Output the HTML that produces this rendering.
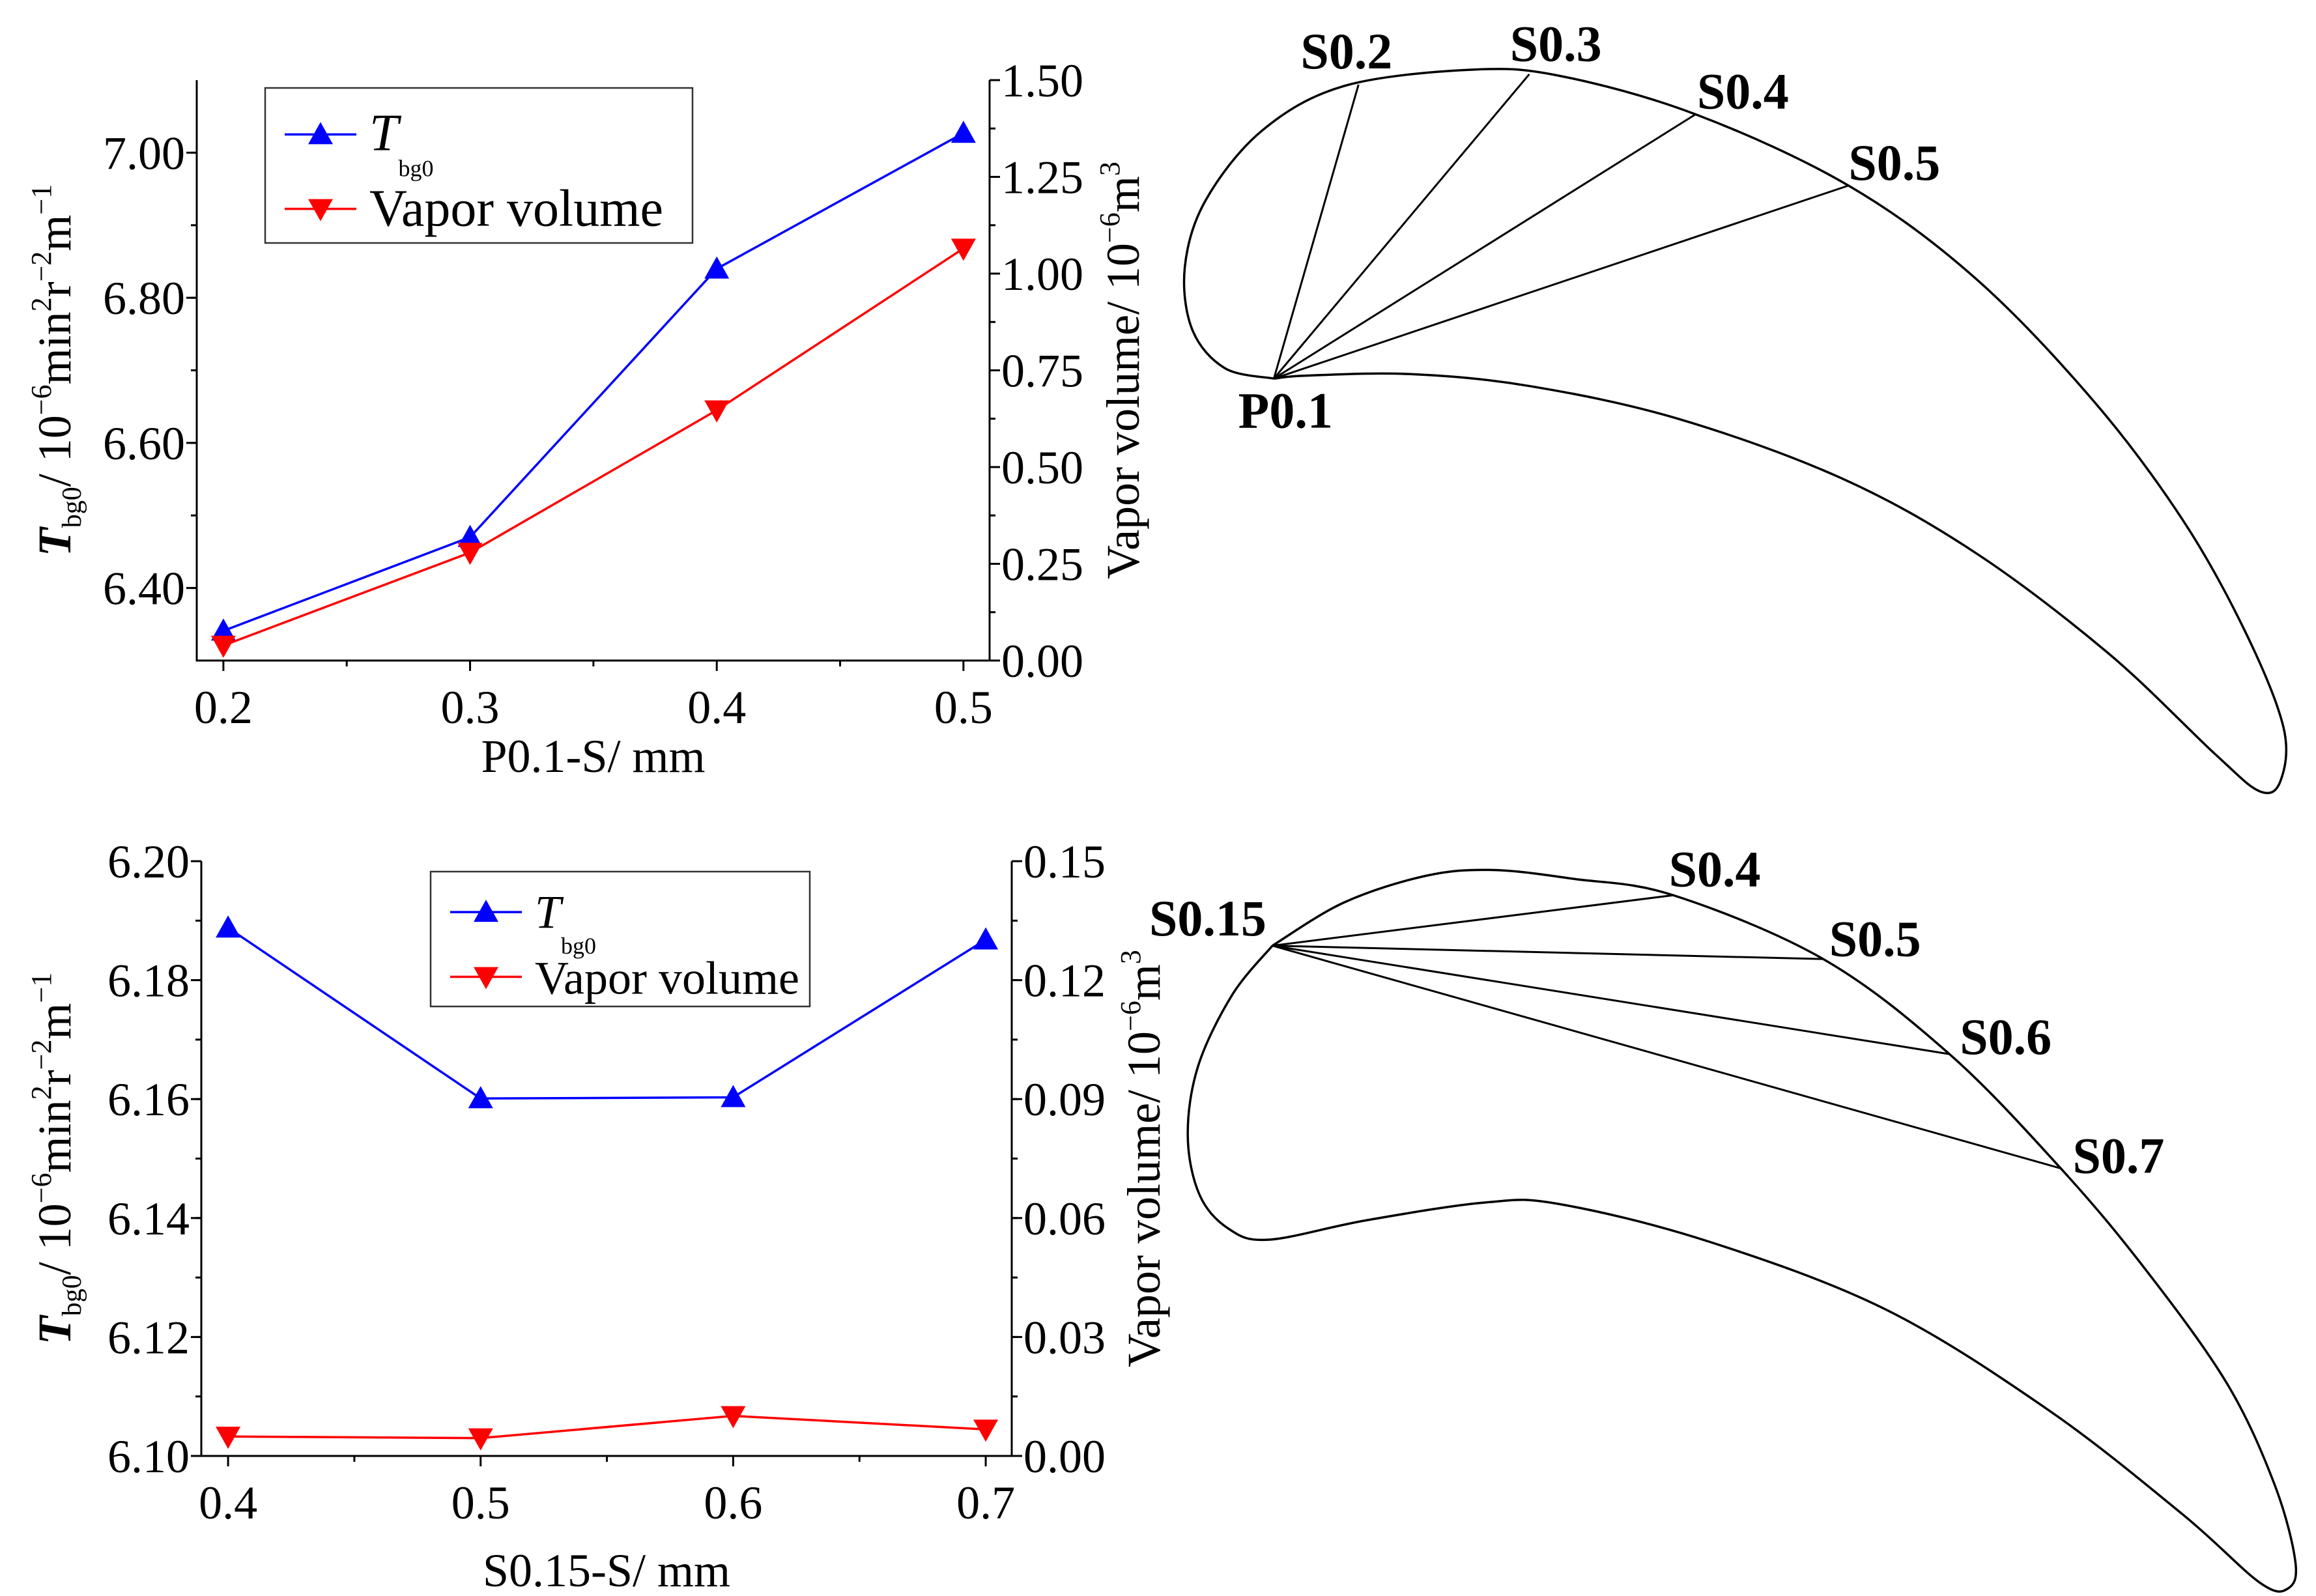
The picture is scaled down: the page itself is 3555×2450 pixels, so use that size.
<!DOCTYPE html>
<html><head><meta charset="utf-8"><style>
html,body{margin:0;padding:0;background:#fff}
svg{display:block}
text{font-family:"Liberation Serif","DejaVu Serif",serif;fill:#000}
</style></head><body>
<svg id="s" width="3555" height="2450" viewBox="0 0 3555 2450" font-family="Liberation Serif, serif" xmlns="http://www.w3.org/2000/svg"></svg>
<script>
// chart 1 data
const c1Cats=[0.2,0.3,0.4,0.5];
const c1T=[6.341,6.470,6.840,7.027];
const c1V=[0.039,0.279,0.647,1.065];
const c1LeftTicks=["6.40","6.60","6.80","7.00"];
const c1RightTicks=["0.00","0.25","0.50","0.75","1.00","1.25","1.50"];
const c1XTicks=["0.2","0.3","0.4","0.5"];
// chart 2 data
const c2Cats=[0.4,0.5,0.6,0.7];
const c2T=[6.1888,6.1601,6.1603,6.1868];
const c2V=[0.0049,0.0045,0.0101,0.0067];
const c2LeftTicks=["6.10","6.12","6.14","6.16","6.18","6.20"];
const c2RightTicks=["0.00","0.03","0.06","0.09","0.12","0.15"];
const c2XTicks=["0.4","0.5","0.6","0.7"];

const NS="http://www.w3.org/2000/svg";
const svg=document.getElementById('s');
function mk(tag,attrs,parent,txt){const e=document.createElementNS(NS,tag);for(const k in attrs)e.setAttribute(k,attrs[k]);if(txt!==undefined)e.textContent=txt;(parent||svg).appendChild(e);return e;}
const FS=72;
function chart(o){
  const g=mk('g',{});
  
  
  const X=v=>o.x0+(v-o.xmin)/(o.xmax-o.xmin)*(o.x1-o.x0);
  const YL=v=>o.y1-(v-o.lmin)/(o.lmax-o.lmin)*(o.y1-o.y0);
  const YR=v=>o.y1-(v-o.rmin)/(o.rmax-o.rmin)*(o.y1-o.y0);
  const ax=mk('path',{d:`M${o.x0},${o.y0}V${o.y1}H${o.x1}V${o.y0}`,fill:'none',stroke:'#000','stroke-width':3},g);
  
  o.xt.forEach((t,i)=>{const v=parseFloat(t);const x=X(v);
    mk('line',{x1:x,y1:o.y1,x2:x,y2:o.y1+16,stroke:'#000','stroke-width':3},g);
    const l=mk('text',{x:x,y:o.y1+96,'font-size':FS,'text-anchor':'middle'},g,t);
    
    if(i<o.xt.length-1){const xm=X(v+o.xstep/2);mk('line',{x1:xm,y1:o.y1,x2:xm,y2:o.y1+9,stroke:'#000','stroke-width':3},g);}
  });
  o.lt.forEach(t=>{const v=parseFloat(t);const y=YL(v);
    mk('line',{x1:o.x0-16,y1:y,x2:o.x0,y2:y,stroke:'#000','stroke-width':3},g);
    const l=mk('text',{x:o.x0-18,y:y+25,'font-size':FS,'text-anchor':'end'},g,t);
    
  });
  for(let v=o.lmin+o.lminor;v<o.lmax-1e-9;v+=o.lminor){const y=YL(v);mk('line',{x1:o.x0-9,y1:y,x2:o.x0,y2:y,stroke:'#000','stroke-width':3},g);}
  o.rt.forEach(t=>{const v=parseFloat(t);const y=YR(v);
    mk('line',{x1:o.x1,y1:y,x2:o.x1+16,y2:y,stroke:'#000','stroke-width':3},g);
    const l=mk('text',{x:o.x1+18,y:y+25,'font-size':FS},g,t);
    
  });
  for(let v=o.rmin+o.rminor;v<o.rmax-1e-9;v+=o.rminor){const y=YR(v);mk('line',{x1:o.x1,y1:y,x2:o.x1+9,y2:y,stroke:'#000','stroke-width':3},g);}
  const xt=mk('text',{x:(o.x0+o.x1)/2,y:o.xtitleY,'font-size':FS,'text-anchor':'middle'},g,o.xtitle);
  
  const lt=mk('text',{transform:`translate(${o.ltX},${(o.y0+o.y1)/2}) rotate(-90)`,'font-size':FS,'text-anchor':'middle'},g);
  lt.innerHTML='<tspan font-style="italic" font-weight="bold">T</tspan><tspan font-size="42" dy="16">bg0</tspan><tspan dy="-16">/ 10</tspan><tspan font-size="44" dy="-30">−6</tspan><tspan dy="30">min</tspan><tspan font-size="44" dy="-30">2</tspan><tspan dy="30">r</tspan><tspan font-size="44" dy="-30">−2</tspan><tspan dy="30">m</tspan><tspan font-size="44" dy="-30">−1</tspan>';
  
  const rt=mk('text',{transform:`translate(${o.rtX},${(o.y0+o.y1)/2}) rotate(-90)`,'font-size':FS,'text-anchor':'middle'},g);
  rt.innerHTML='Vapor volume/ 10<tspan font-size="44" dy="-30">−6</tspan><tspan dy="30">m</tspan><tspan font-size="44" dy="-30">3</tspan>';
  
  function series(vals,Y,color,up,name){
    const pts=o.cats.map((c,i)=>[X(c),Y(vals[i])]);
    const pl=mk('polyline',{points:pts.map(p=>p.join(',')).join(' '),fill:'none',stroke:color,'stroke-width':3.5},g);
    
    pts.forEach(p=>{const m=mk('path',{d:tri(p[0],p[1],up),fill:color},g);
      });
  }
  series(o.T,YL,'#0000ff',true,'tbg0');
  series(o.V,YR,'#ff0000',false,'vapor-volume');
  const L=o.leg;
  const lg=mk('g',{},g);
  mk('rect',{x:L.x,y:L.y,width:L.w,height:L.h,fill:'#fff',stroke:'#333','stroke-width':2.5},lg);
  const r1=L.y+L.h*0.3, r2=L.y+L.h*0.78;
  mk('line',{x1:L.x+30,y1:r1,x2:L.x+140,y2:r1,stroke:'#0000ff','stroke-width':3.5},lg);
  mk('path',{d:tri(L.x+85,r1,true),fill:'#0000ff'},lg);
  const t1=mk('text',{x:L.x+160,y:r1+24,'font-size':o.legFs},lg);
  t1.innerHTML='<tspan font-style="italic">T</tspan><tspan font-size="36" dy="40">bg0</tspan>';
  
  mk('line',{x1:L.x+30,y1:r2,x2:L.x+140,y2:r2,stroke:'#ff0000','stroke-width':3.5},lg);
  mk('path',{d:tri(L.x+85,r2,false),fill:'#ff0000'},lg);
  const t2=mk('text',{x:L.x+160,y:r2+26,'font-size':o.legFs},lg,'Vapor volume');
  
}
function tri(x,y,up){const a=19,b=17;return up?`M${x},${y-b-2}L${x+a},${y+b-2}L${x-a},${y+b-2}Z`:`M${x},${y+b+2}L${x+a},${y-b+2}L${x-a},${y-b+2}Z`;}

chart({name:'chart-p01',x0:302,x1:1519,y0:123,y1:1014,xmin:0.1892,xmax:0.5106,xstep:0.1,
  cats:c1Cats,T:c1T,V:c1V,lt:c1LeftTicks,rt:c1RightTicks,xt:c1XTicks,
  lmin:6.30,lmax:7.10,lminor:0.1,rmin:0,rmax:1.5,rminor:0.125,
  xtitle:'P0.1-S/ mm',xtitleY:1185,ltX:108,rtX:1748,
  leg:{x:407,y:135,w:656,h:238},legFs:80});
chart({name:'chart-s015',x0:309,x1:1553,y0:1322,y1:2235,xmin:0.3894,xmax:0.7103,xstep:0.1,
  cats:c2Cats,T:c2T,V:c2V,lt:c2LeftTicks,rt:c2RightTicks,xt:c2XTicks,
  lmin:6.10,lmax:6.20,lminor:0.01,rmin:0,rmax:0.15,rminor:0.015,
  xtitle:'S0.15-S/ mm',xtitleY:2435,ltX:108,rtX:1780,
  leg:{x:661,y:1338,w:582,h:207},legFs:72});

const K=2.279;
function cr(pts){let d=`M${pts[0][0]*K},${pts[0][1]*K}`;const n=pts.length;
  for(let i=0;i<n-1;i++){const p0=pts[Math.max(i-1,0)],p1=pts[i],p2=pts[i+1],p3=pts[Math.min(i+2,n-1)];
    d+=`C${(p1[0]+(p2[0]-p0[0])/6)*K},${(p1[1]+(p2[1]-p0[1])/6)*K} ${(p2[0]-(p3[0]-p1[0])/6)*K},${(p2[1]-(p3[1]-p1[1])/6)*K} ${p2[0]*K},${p2[1]*K}`;}
  return d;}
const b1=[[858,255],[825,248],[803,222],[798,180],[812,135],[850,88],[905,58],[990,47],[1050,51],[1142,77],[1245,125],[1330,187],[1410,270],[1470,350],[1512,425],[1538,490],[1536,526],[1522,533],[1492,508],[1420,440],[1330,372],[1240,322],[1130,282],[1030,260],[950,252],[880,253],[858,255]];
let p=mk('path',{d:cr(b1),fill:'none',stroke:'#000','stroke-width':3.5});

[[915,57],[1030,50],[1142,77],[1245,125]].forEach(q=>{const l=mk('line',{x1:858*K,y1:255*K,x2:q[0]*K,y2:q[1]*K,stroke:'#000','stroke-width':3});});
const b2=[[857,637],[905,608],[960,590],[1005,586],[1060,592],[1127,603],[1228,646],[1313,710],[1388,787],[1445,855],[1500,932],[1532,1000],[1546,1052],[1541,1070],[1522,1066],[1470,1020],[1380,950],[1270,882],[1150,836],[1050,811],[1000,810],[920,822],[855,835],[828,828],[808,805],[800,765],[807,718],[830,670],[857,637]];
p=mk('path',{d:cr(b2),fill:'none',stroke:'#000','stroke-width':3.5});

[[1127,603],[1228,646],[1313,710],[1388,787]].forEach(q=>{const l=mk('line',{x1:857*K,y1:637*K,x2:q[0]*K,y2:q[1]*K,stroke:'#000','stroke-width':3});});
[['S0.2',876,46],['S0.3',1017,41],['S0.4',1143,73],['S0.5',1245,121],['P0.1',834,288],['S0.15',774,630],['S0.4',1124,597],['S0.5',1232,644],['S0.6',1320,710],['S0.7',1396,790]].forEach(a=>{
  const t=mk('text',{x:a[1]*K,y:a[2]*K,'font-size':78,'font-weight':'bold'},svg,a[0]);
  });
</script>
</body></html>
